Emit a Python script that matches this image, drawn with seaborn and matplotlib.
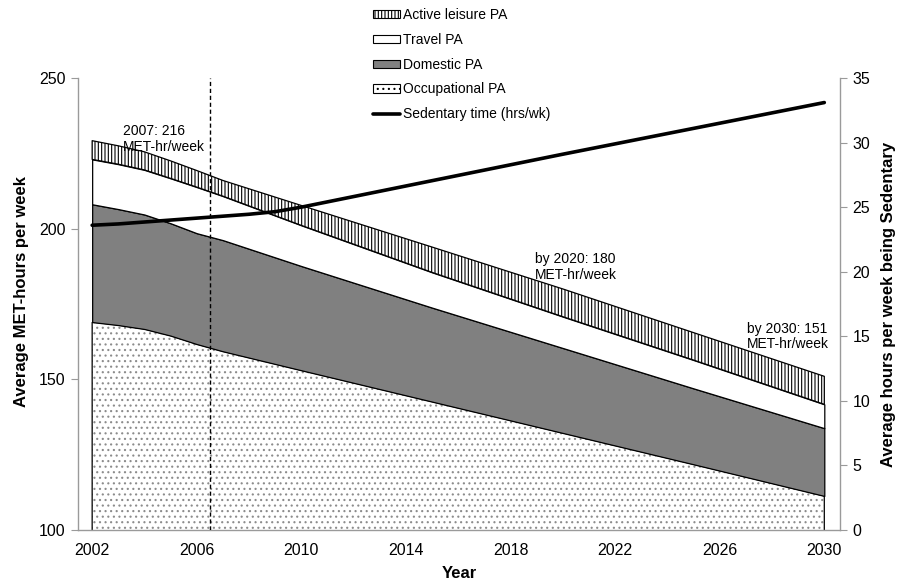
import numpy as np
import matplotlib
matplotlib.use("Agg")
import matplotlib.pyplot as plt
import seaborn as sns
from matplotlib.patches import Patch
from matplotlib.lines import Line2D

# Physical activity by domain (MET-hours per week), stacked
area_years = [2002, 2003, 2004, 2005, 2006, 2007, 2010, 2015, 2020, 2025, 2030]
occupational = [169.0, 168.0, 166.7, 164.5, 161.7, 159.3, 153.0, 142.6, 132.2, 121.8, 111.3]
domestic = [39.1, 38.5, 38.0, 37.3, 36.8, 36.9, 34.6, 31.2, 28.2, 25.2, 22.5]
travel = [14.9, 14.9, 14.8, 14.9, 15.3, 14.6, 13.5, 11.7, 10.4, 9.4, 7.9]
active_leisure = [6.2, 6.1, 6.0, 5.8, 5.5, 5.2, 6.6, 8.4, 9.2, 9.1, 9.3]

# Sedentary time (hours per week)
sed_years = [2002, 2003, 2004, 2005, 2006, 2007, 2008, 2009, 2010, 2015, 2020, 2025, 2030]
sedentary = [23.6, 23.7, 23.85, 24.0, 24.15, 24.3, 24.45, 24.65, 25.0, 27.05, 29.1, 31.1, 33.1]

x_labels = [2002, 2006, 2010, 2014, 2018, 2022, 2026, 2030]
left_ticks = [100, 150, 200, 250]
right_ticks = [0, 5, 10, 15, 20, 25, 30, 35]
cutoff_year = 2006.5
annotated_years = [2007, 2020, 2030]

sns.set_style("white")
plt.rcParams["font.family"] = ["Liberation Sans", "DejaVu Sans"]
plt.rcParams["hatch.linewidth"] = 0.8
plt.rcParams["text.color"] = "black"
plt.rcParams["axes.labelcolor"] = "black"
plt.rcParams["xtick.labelcolor"] = "black"
plt.rcParams["ytick.labelcolor"] = "black"

AXIS_GREY = "#9a9a9a"
DARK_FILL = "#808080"

fig = plt.figure(figsize=(8.98, 5.87), dpi=100)
ax = fig.add_axes([0.0869, 0.0971, 0.8485, 0.7700])

x = np.array(area_years, dtype=float)
occ = np.array(occupational)
dom_top = occ + np.array(domestic)
trav_top = dom_top + np.array(travel)
total = trav_top + np.array(active_leisure)

# Occupational: white with grey dots
ax.fill_between(x, 0, occ, facecolor="white", edgecolor="#8c8c8c",
                hatch="...", linewidth=0, zorder=1)
ax.fill_between(x, 0, occ, facecolor="none", edgecolor="black",
                linewidth=0.9, zorder=2)
# Domestic: solid grey
ax.fill_between(x, occ, dom_top, facecolor=DARK_FILL, edgecolor="black",
                linewidth=0.9, zorder=2)
# Travel: white
ax.fill_between(x, dom_top, trav_top, facecolor="white", edgecolor="black",
                linewidth=0.9, zorder=2)
# Active leisure: vertical stripes
ax.fill_between(x, trav_top, total, facecolor="white", edgecolor="black",
                hatch="|||||", linewidth=0.9, zorder=2)

ax.axvline(cutoff_year, color="black", linestyle=(0, (3, 2)), linewidth=1.0, zorder=3)

ax.set_xlim(2001.46, 2030.6)
ax.set_ylim(100, 250)
ax.set_yticks(left_ticks)
ax.set_xticks(x_labels)
ax.set_xticks(np.arange(2005.5, 2030, 4), minor=True)
ax.tick_params(axis="x", which="major", length=0, pad=9, labelsize=11.5)
ax.tick_params(axis="x", which="minor", length=4, width=0.8, color=AXIS_GREY, direction="out")
ax.tick_params(axis="y", length=5, width=0.8, color=AXIS_GREY, direction="out",
               pad=4, labelsize=11.5, left=True)
for side in ("top", "right"):
    ax.spines[side].set_visible(False)
for side in ("left", "bottom"):
    ax.spines[side].set_color(AXIS_GREY)
    ax.spines[side].set_linewidth(1.0)

ax.set_xlabel("Year", fontsize=12, fontweight="bold", labelpad=6)
ax.set_ylabel("Average MET-hours per week", fontsize=12, fontweight="bold")
ax.yaxis.set_label_coords(-0.064, 0.527)

# Text labels for the stacked totals
label_pos = {2007: (2003.17, 234.6, "{y}: {v:.0f}\nMET-hr/week"),
             2020: (2018.94, 192.2, "by {y}: {v:.0f}\nMET-hr/week"),
             2030: (2027.04, 169.1, "by {y}: {v:.0f}\nMET-hr/week")}
for yr in annotated_years:
    tx, ty, fmt = label_pos[yr]
    val = total[area_years.index(yr)]
    ax.text(tx, ty, fmt.format(y=yr, v=val), ha="left", va="top",
            fontsize=10, linespacing=1.15, zorder=5)

# Sedentary time on the secondary axis
ax2 = ax.twinx()
sns.lineplot(x=sed_years, y=sedentary, ax=ax2, color="black", linewidth=2.6,
             legend=False, zorder=4)
ax2.set_ylim(0, 35)
ax2.set_yticks(right_ticks)
ax2.tick_params(axis="y", length=5, width=0.8, color=AXIS_GREY, direction="out",
                pad=4, labelsize=11.5, right=True)
for side in ("top", "left", "bottom"):
    ax2.spines[side].set_visible(False)
ax2.spines["right"].set_color(AXIS_GREY)
ax2.spines["right"].set_linewidth(1.0)
ax2.set_ylabel("Average hours per week being Sedentary", fontsize=12,
               fontweight="bold", labelpad=8)

handles = [
    Patch(facecolor="white", edgecolor="black", hatch="|||||", linewidth=0.8,
          label="Active leisure PA"),
    Patch(facecolor="white", edgecolor="black", linewidth=0.8, label="Travel PA"),
    Patch(facecolor=DARK_FILL, edgecolor="black", linewidth=0.8, label="Domestic PA"),
    Patch(facecolor="white", edgecolor="black", hatch="...", linewidth=0.8,
          label="Occupational PA"),
    Line2D([], [], color="black", linewidth=2.6, label="Sedentary time (hrs/wk)"),
]
fig.legend(handles=handles, loc="upper left", bbox_to_anchor=(372.7 / 898, 1 - 8 / 587),
           frameon=False, fontsize=10, borderpad=0, borderaxespad=0,
           handlelength=2.0, handleheight=0.55, handletextpad=0.15, labelspacing=0.78)

fig.savefig("out.png", dpi=100)
